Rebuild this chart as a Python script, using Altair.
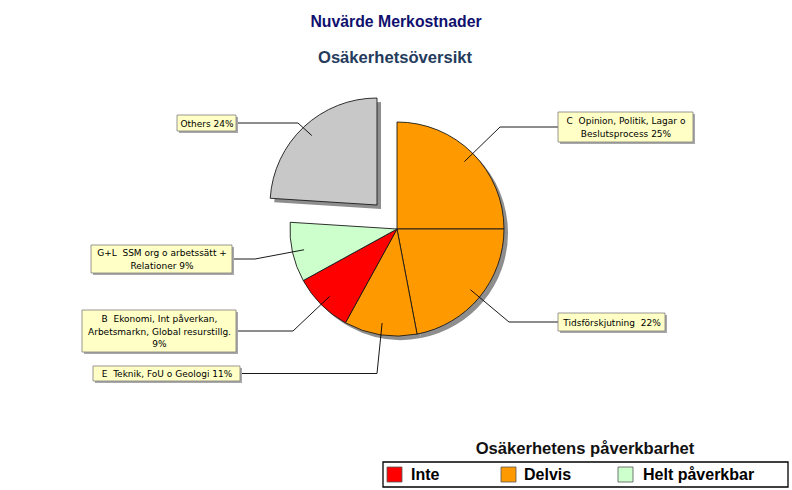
import math
import altair as alt
import pandas as pd

# ---------------- data ----------------
chart_title = "Nuvärde Merkostnader"
chart_subtitle = "Osäkerhetsöversikt"
legend_title = "Osäkerhetens påverkbarhet"

NB = "\u00a0"
slice_names = ["C", "Tidsförskjutning", "E", "B", "G+L", "Others"]
slice_values = [25, 22, 11, 9, 9, 24]
slice_groups = ["Delvis", "Delvis", "Delvis", "Inte", "Helt påverkbar", "Others"]
slice_labels = [
    f"C{NB} Opinion, Politik, Lagar o\nBeslutsprocess 25%",
    f"Tidsförskjutning{NB} 22%",
    f"E{NB} Teknik, FoU o Geologi 11%",
    f"B{NB} Ekonomi, Int påverkan,\nArbetsmarkn, Global resurstillg.\n9%",
    f"G+L{NB} SSM org o arbetssätt +\nRelationer 9%",
    "Others 24%",
]
legend_names = ["Inte", "Delvis", "Helt påverkbar"]

# ---------------- styles / layout ----------------
group_domain = ["Inte", "Delvis", "Helt påverkbar", "Others"]
group_range = ["#FF0000", "#FF9900", "#CCFFCC", "#C8C8C8"]
FONT = "Liberation Sans"
LABEL_FONT = "DejaVu Sans"
LABEL_SIZE = 9
LINE_H = 12.5
CX, CY, R = 397, 229, 107
EXPLODE = {"Others": (-20, -24)}
SHADOW = 4
# label boxes: x0, x1, y0, y1
box_layout = {
    "C": (558, 693, 112, 142),
    "Tidsförskjutning": (558, 665, 313, 331),
    "E": (93, 240, 366, 381),
    "B": (82, 236, 310, 352),
    "G+L": (91, 232, 245, 273),
    "Others": (177, 236, 115, 131),
}
elbow_x = {"C": 500, "Tidsförskjutning": 509, "E": 377, "B": 293, "G+L": 255, "Others": 298}
legend_box = (383, 788, 462, 487)
legend_swatch_x = [387, 501, 618]
legend_text_x = [411, 524, 643]

# ---------------- tables ----------------
pie_df = pd.DataFrame({
    "name": slice_names,
    "value": slice_values,
    "group": slice_groups,
    "order": list(range(len(slice_names))),
})

total = sum(slice_values)
cum = 0
box_rows, line_rows = [], []
for name, val, lab in zip(slice_names, slice_values, slice_labels):
    mid = (cum + val / 2) / total * 2 * math.pi
    cum += val
    dx, dy = EXPLODE.get(name, (0, 0))
    sx = CX + dx + 0.89 * R * math.sin(mid)
    sy = CY + dy - 0.89 * R * math.cos(mid)
    x0, x1, y0, y1 = box_layout[name]
    ym = (y0 + y1) / 2
    n_lines = lab.count("\n") + 1
    right_side = x0 > CX
    ex = x0 if right_side else x1
    box_rows.append({"name": name, "label": lab, "x0": x0, "x1": x1, "y0": y0, "y1": y1,
                     "sx0": x0 + 2, "sx1": x1 + 2, "sy0": y0 + 2, "sy1": y1 + 2,
                     "tx": (x0 + x1) / 2 + 0.5,
                     "ty": ym + 0.5 - (n_lines - 1) * LINE_H / 2})
    for seq, (px, py) in enumerate([(sx, sy), (elbow_x[name], ym), (ex, ym)]):
        line_rows.append({"name": name, "seq": seq, "px": px, "py": py})
box_df = pd.DataFrame(box_rows)
line_df = pd.DataFrame(line_rows)

legend_df = pd.DataFrame({
    "name": legend_names,
    "sx0": legend_swatch_x,
    "sx1": [v + 15 for v in legend_swatch_x],
    "tx": legend_text_x,
})

xs = alt.Scale(domain=[0, 792], range=[0, 792], nice=False, zero=False)
ys = alt.Scale(domain=[0, 490], range=[0, 490], nice=False, zero=False)
color_scale = alt.Scale(domain=group_domain, range=group_range)

# ---------------- pie ----------------
pie_base = alt.Chart(pie_df).encode(
    theta=alt.Theta("value:Q", stack=True),
    order=alt.Order("order:Q", sort="ascending"),
)
is_exploded = "datum.name === 'Others'"

shadow_main = pie_base.mark_arc(radius=R, fill="#8E8E8E").encode(
    x=alt.value(CX + SHADOW), y=alt.value(CY + SHADOW),
    opacity=alt.condition(is_exploded, alt.value(0), alt.value(1)),
)
shadow_expl = pie_base.mark_arc(radius=R, fill="#8E8E8E").encode(
    x=alt.value(CX + EXPLODE["Others"][0] + SHADOW), y=alt.value(CY + EXPLODE["Others"][1] + SHADOW),
    opacity=alt.condition(is_exploded, alt.value(1), alt.value(0)),
)
slices_main = pie_base.mark_arc(radius=R, stroke="#1A1A1A", strokeWidth=0.9).encode(
    x=alt.value(CX), y=alt.value(CY),
    color=alt.Color("group:N", scale=color_scale, legend=None),
    opacity=alt.condition(is_exploded, alt.value(0), alt.value(1)),
)
slices_expl = pie_base.mark_arc(radius=R, stroke="#1A1A1A", strokeWidth=0.9).encode(
    x=alt.value(CX + EXPLODE["Others"][0]), y=alt.value(CY + EXPLODE["Others"][1]),
    color=alt.Color("group:N", scale=color_scale, legend=None),
    opacity=alt.condition(is_exploded, alt.value(1), alt.value(0)),
)

# ---------------- labels ----------------
leaders = alt.Chart(line_df).mark_line(color="black", strokeWidth=0.9).encode(
    x=alt.X("px:Q", scale=xs, axis=None),
    y=alt.Y("py:Q", scale=ys, axis=None),
    detail="name:N",
    order="seq:Q",
)
box_shadow = alt.Chart(box_df).mark_rect(fill="#A8A8A8").encode(
    x=alt.X("sx0:Q", scale=xs, axis=None), x2="sx1:Q",
    y=alt.Y("sy0:Q", scale=ys, axis=None), y2="sy1:Q",
)
boxes = alt.Chart(box_df).mark_rect(fill="#FFFFC6", stroke="#7F7F7F", strokeWidth=0.8).encode(
    x=alt.X("x0:Q", scale=xs, axis=None), x2="x1:Q",
    y=alt.Y("y0:Q", scale=ys, axis=None), y2="y1:Q",
)
box_text = alt.Chart(box_df).mark_text(
    font=LABEL_FONT, fontSize=LABEL_SIZE, lineHeight=LINE_H, align="center", baseline="middle",
    color="black", lineBreak="\n",
).encode(
    x=alt.X("tx:Q", scale=xs, axis=None),
    y=alt.Y("ty:Q", scale=ys, axis=None),
    text="label:N",
)

# ---------------- titles ----------------
def title_layer(text, x, y, size, color):
    return alt.Chart(pd.DataFrame({"t": [text]})).mark_text(
        font=FONT, fontSize=size, fontWeight="bold", color=color,
        align="center", baseline="middle",
    ).encode(x=alt.value(x), y=alt.value(y), text="t:N")

t1 = title_layer(chart_title, 396, 22, 15.8, "#10106E")
t2 = title_layer(chart_subtitle, 395, 58, 16.6, "#243B5C")
t3 = title_layer(legend_title, 585, 449, 16.6, "#111111")

# ---------------- legend ----------------
lx0, lx1, ly0, ly1 = legend_box
leg_frame = alt.Chart(pd.DataFrame({"a": [lx0], "b": [lx1], "c": [ly0], "d": [ly1]})).mark_rect(
    fill="white", stroke="black", strokeWidth=1.3
).encode(
    x=alt.X("a:Q", scale=xs, axis=None), x2="b:Q",
    y=alt.Y("c:Q", scale=ys, axis=None), y2="d:Q",
)
leg_swatch = alt.Chart(legend_df).mark_rect(stroke="#555555", strokeWidth=0.8).encode(
    x=alt.X("sx0:Q", scale=xs, axis=None), x2="sx1:Q",
    y=alt.value(467), y2=alt.value(482),
    color=alt.Color("name:N", scale=color_scale, legend=None),
)
leg_text = alt.Chart(legend_df).mark_text(
    font=FONT, fontSize=16, fontWeight="bold", align="left", baseline="middle", color="black"
).encode(
    x=alt.X("tx:Q", scale=xs, axis=None),
    y=alt.value(475),
    text="name:N",
)

chart = alt.layer(
    shadow_main, shadow_expl, slices_main, slices_expl,
    leaders, box_shadow, boxes, box_text,
    t1, t2, t3, leg_frame, leg_swatch, leg_text,
).properties(
    width=792, height=490, padding=0,
    autosize=alt.AutoSizeParams(type="none"),
    background="white",
).configure_view(stroke=None)

chart.save("out.html", embed_options={"renderer": "svg", "actions": False})
